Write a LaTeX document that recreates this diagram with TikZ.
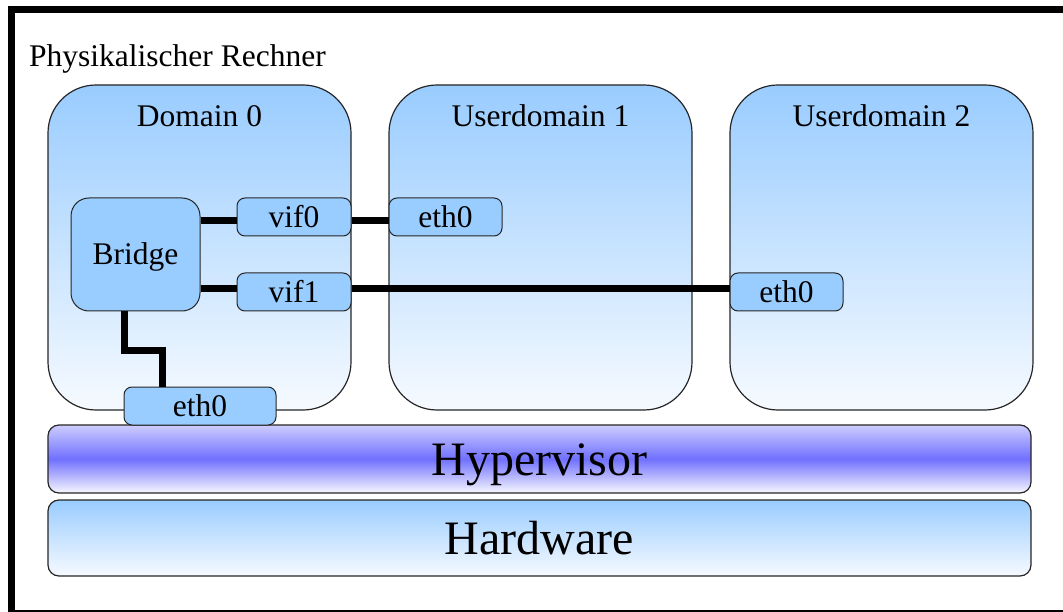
\documentclass[tikz,border=0pt]{standalone}
\usepackage{fontspec}
\setmainfont{Liberation Serif}
\usetikzlibrary{calc}
\definecolor{lightblue}{RGB}{153,204,255}
\definecolor{paleblue}{RGB}{246,250,255}
\definecolor{hvtop}{RGB}{205,205,255}
\definecolor{hvmid}{RGB}{112,112,255}
\definecolor{hvbot}{RGB}{248,248,255}
\begin{document}
\begin{tikzpicture}[x=1pt,y=-1pt,
  dombox/.style={draw=black!85, line width=1.2pt, rounded corners=48pt,
    top color=lightblue, bottom color=paleblue,
    minimum width=303pt, minimum height=325pt, inner sep=0pt},
  dlabel/.style={anchor=base, inner sep=0pt, font=\fontsize{31.5}{36}\selectfont},
  port/.style={draw=black!85, line width=1pt, rounded corners=8pt, fill=lightblue,
    minimum width=114pt, minimum height=38pt, inner sep=0pt,
    font=\fontsize{31.5}{36}\selectfont, text height=21pt, text depth=0pt},
  bar/.style={draw=black!85, line width=1.2pt, rounded corners=11pt,
    minimum width=983pt, inner sep=0pt,
    font=\fontsize{48}{56}\selectfont, text height=32pt, text depth=0pt},
  wire/.style={line width=7pt}]
\useasboundingbox (0,0) rectangle (1063,612);
\clip (0,0) rectangle (1063,612);
% outer frame
\draw[line width=7pt] (11.5,9.5) rectangle (1075,613.5);
\node[anchor=base west, inner sep=0pt, font=\fontsize{31.5}{36}\selectfont] (title) at (29,67) {Physikalischer Rechner};
% domains
\node[dombox] (d0) at (199.5,247.5) {};
\node[dombox] (u1) at (540.5,247.5) {};
\node[dombox] (u2) at (881.5,247.5) {};
\node[dlabel] (d0l) at (199.5,127) {Domain 0};
\node[dlabel] (u1l) at (540.5,127) {Userdomain 1};
\node[dlabel] (u2l) at (881.5,127) {Userdomain 2};
% hypervisor and hardware
\node[bar, top color=hvtop, bottom color=hvbot, middle color=hvmid, minimum height=68pt] (hv) at (539.5,459) {Hypervisor};
\node[bar, top color=lightblue, bottom color=paleblue, minimum height=76pt] (hw) at (539.5,538) {Hardware};
% ports
\node[port, rounded corners=18pt, minimum width=129pt, minimum height=113pt] (bridge) at (135.5,254.5) {Bridge};
\node[port] (vif0) at (294,217) {vif0};
\node[port] (vif1) at (294,292) {vif1};
\node[port, minimum width=113pt] (eth1) at (445.5,217) {eth0};
\node[port, minimum width=113pt] (eth2) at (786.5,292) {eth0};
\node[port, minimum width=152pt] (eth0) at (200,406) {eth0};
% wires
\draw[wire] ([yshift=-3.5pt]bridge.east |- vif0.west) -- ([yshift=-3.5pt]vif0.west);
\draw[wire] ([yshift=-3.5pt]vif0.east) -- ([yshift=-3.5pt]eth1.west);
\draw[wire] ([yshift=3.5pt]bridge.east |- vif1.west) -- ([yshift=3.5pt]vif1.west);
\draw[wire] ([yshift=3.5pt]vif1.east) -- ([yshift=3.5pt]eth2.west);
\draw[wire] ([xshift=-11pt]bridge.south) -- ++(0,39) -| ([xshift=-38pt]eth0.north);
\end{tikzpicture}
\end{document}
